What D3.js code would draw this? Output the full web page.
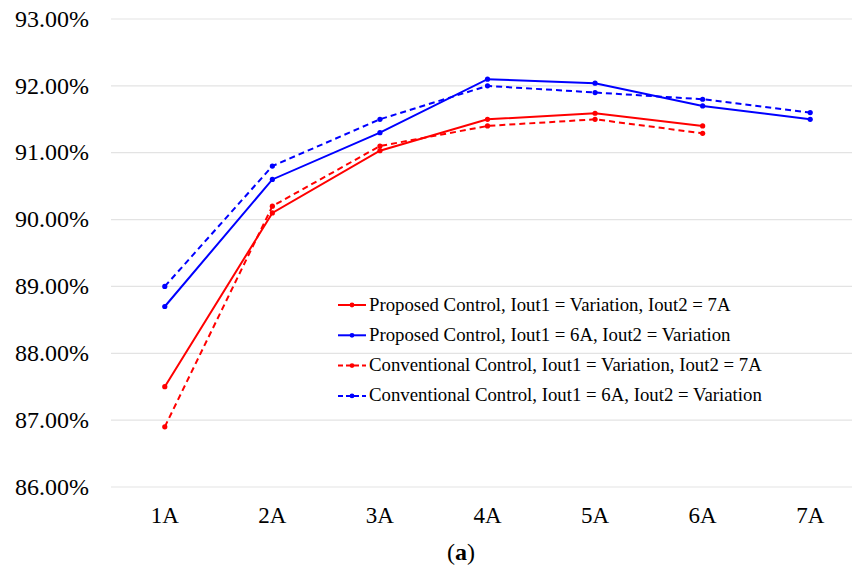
<!DOCTYPE html>
<html lang="en">
<head>
<meta charset="utf-8">
<title>Efficiency</title>
<script src="https://cdn.jsdelivr.net/npm/d3@7"></script>
<style>
  body { margin: 0; background: #fff; }
  svg { font-family: "Liberation Serif", "Times New Roman", serif; }
</style>
</head>
<body>
<script>
// data
var categories = ["1A", "2A", "3A", "4A", "5A", "6A", "7A"];
var yTicks = [86, 87, 88, 89, 90, 91, 92, 93];

var propVar7A = [87.5, 90.1, 91.03, 91.5, 91.59, 91.4];
var prop6AVar = [88.7, 90.6, 91.3, 92.1, 92.04, 91.7, 91.5];
var convVar7A = [86.9, 90.2, 91.1, 91.4, 91.5, 91.29];
var conv6AVar = [89.0, 90.8, 91.5, 92.0, 91.9, 91.8, 91.6];

var seriesNames = [
  "Proposed Control, Iout1 = Variation, Iout2 = 7A",
  "Proposed Control, Iout1 = 6A, Iout2 = Variation",
  "Conventional Control, Iout1 = Variation, Iout2 = 7A",
  "Conventional Control, Iout1 = 6A, Iout2 = Variation"
];

var series = [
  { name: seriesNames[0], values: propVar7A, color: "#ff0000", dash: null },
  { name: seriesNames[1], values: prop6AVar, color: "#0000ff", dash: null },
  { name: seriesNames[2], values: convVar7A, color: "#ff0000", dash: "6,4" },
  { name: seriesNames[3], values: conv6AVar, color: "#0000ff", dash: "6,4" }
];

var width = 852, height = 569;
var plotLeft = 111, plotRight = 864, plotTop = 19, plotBottom = 487;

var svg = d3.select("body").append("svg")
  .attr("width", width)
  .attr("height", height);

var x = d3.scaleBand().domain(categories).range([plotLeft, plotRight]);
var y = d3.scaleLinear().domain([86, 93]).range([plotBottom, plotTop]);

// gridlines
svg.append("g")
  .selectAll("line")
  .data(yTicks)
  .join("line")
    .attr("x1", plotLeft)
    .attr("x2", width)
    .attr("y1", d => y(d))
    .attr("y2", d => y(d))
    .attr("stroke", "#e3e3e3")
    .attr("stroke-width", 1.2);

// y axis labels
var yAxis = d3.axisLeft(y)
  .tickValues(yTicks)
  .tickSize(0)
  .tickPadding(0)
  .tickFormat(d => d.toFixed(2) + "%");

svg.append("g")
  .attr("transform", "translate(89,0)")
  .call(yAxis)
  .call(g => g.select(".domain").remove())
  .call(g => g.selectAll("text")
    .attr("font-family", "'Liberation Serif', serif")
    .attr("font-size", 24)
    .attr("dy", "0.3em")
    .attr("fill", "#000"));

// x axis labels
var xAxis = d3.axisBottom(x).tickSize(0).tickPadding(0);
svg.append("g")
  .attr("transform", "translate(0,506)")
  .call(xAxis)
  .call(g => g.select(".domain").remove())
  .call(g => g.selectAll("text")
    .attr("font-family", "'Liberation Serif', serif")
    .attr("font-size", 23)
    .attr("dy", "0.72em")
    .attr("fill", "#000"));

// lines
var line = d3.line()
  .x((d, i) => x(categories[i]) + x.bandwidth() / 2)
  .y(d => y(d));

var sg = svg.append("g")
  .selectAll("g")
  .data(series)
  .join("g");

sg.append("path")
  .attr("d", d => line(d.values))
  .attr("fill", "none")
  .attr("stroke", d => d.color)
  .attr("stroke-width", 2)
  .attr("stroke-dasharray", d => d.dash);

sg.each(function(s) {
  d3.select(this).selectAll("circle")
    .data(s.values)
    .join("circle")
      .attr("cx", (d, i) => x(categories[i]) + x.bandwidth() / 2)
      .attr("cy", d => y(d))
      .attr("r", 2.6)
      .attr("fill", s.color);
});

// legend
var legend = svg.append("g")
  .selectAll("g")
  .data(series)
  .join("g")
    .attr("transform", (d, i) => "translate(338," + (305 + i * 30.3) + ")");

legend.append("line")
  .attr("x1", 0).attr("x2", 28)
  .attr("stroke", d => d.color)
  .attr("stroke-width", 2)
  .attr("stroke-dasharray", d => d.dash ? "5,3" : null);

legend.append("circle")
  .attr("cx", 14).attr("r", 2.4)
  .attr("fill", d => d.color);

legend.append("text")
  .attr("x", 31)
  .attr("y", 5.5)
  .attr("font-size", 18.8)
  .attr("fill", "#000")
  .text(d => d.name);

// caption
var caption = svg.append("text")
  .attr("x", 461)
  .attr("y", 560)
  .attr("text-anchor", "middle")
  .attr("font-size", 24)
  .attr("fill", "#000");
caption.append("tspan").text("(");
caption.append("tspan").attr("font-weight", "bold").text("a");
caption.append("tspan").text(")");
</script>
</body>
</html>
